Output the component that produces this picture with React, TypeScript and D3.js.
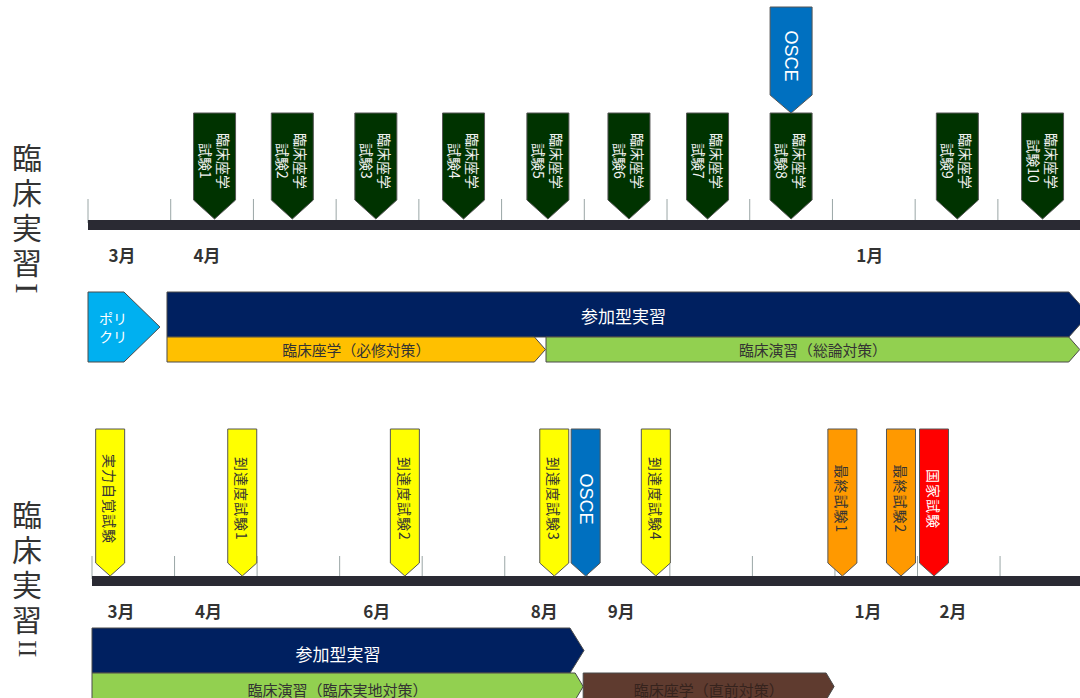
import React from "react";
import * as d3 from "d3";

// ---- data (positions in months from the start of March) ----
const monthTicks = [0, 1, 2, 3, 4, 5, 6, 7, 8, 9, 10, 11, 12];

const topMonthLabels = ["3月", "4月", "1月"];
const topMonthPos = [0.41, 1.44, 9.45];

const topExamLine1 = "臨床座学";
const topExamLabels = ["試験1", "試験2", "試験3", "試験4", "試験5", "試験6", "試験7", "試験8", "試験9", "試験10"];
const topExamPos = [1.53, 2.47, 3.48, 4.54, 5.56, 6.54, 7.49, 8.5, 10.51, 11.54];
const topOsceLabels = ["OSCE"];
const topOscePos = [8.5];

const bottomMonthLabels = ["3月", "4月", "6月", "8月", "9月", "1月", "2月"];
const bottomMonthPos = [0.35, 1.41, 3.45, 5.48, 6.41, 9.4, 10.43];

const bottomExamLabels = ["実力自覚試験", "到達度試験1", "到達度試験2", "到達度試験3", "OSCE", "到達度試験4", "最終試験1", "最終試験2", "国家試験"];
const bottomExamPos = [0.22, 1.82, 3.79, 5.6, 5.98, 6.83, 9.09, 9.8, 10.2];
const bottomExamKind = ["reach", "reach", "reach", "reach", "osce", "reach", "final", "final", "national"];

const topBandLabels = ["ポリ\nクリ", "参加型実習", "臨床座学（必修対策）", "臨床演習（総論対策）"];
const topBandStart = [0, 0.955, 0.955, 5.537];
const topBandEnd = [0.87, 12.1, 5.53, 11.99];
const topBandKind = ["poly", "navy", "gold", "green"];

const bottomBandLabels = ["参加型実習", "臨床演習（臨床実地対策）", "臨床座学（直前対策）"];
const bottomBandStart = [0, 0, 5.95];
const bottomBandEnd = [5.96, 5.95, 8.99];
const bottomBandKind = ["navy", "green", "brown"];

const sectionTitles = ["臨床実習", "臨床実習"];
const sectionNumerals = ["I", "II"];

// ---- styles ----
const JP = "'Noto Sans CJK JP', 'Noto Sans', sans-serif";
const LAT = "'Liberation Sans', Arial, sans-serif";
const SERIF = "'Liberation Serif', 'DejaVu Serif', serif";
const kindFill: Record<string, string> = {
  exam: "#003300",
  osce: "#0070C0",
  reach: "#FFFF00",
  final: "#FF9900",
  national: "#FF0000",
  poly: "#00B0F0",
  navy: "#002060",
  gold: "#FFC000",
  green: "#92D050",
  brown: "#5F3B2F",
};
const kindText: Record<string, string> = {
  exam: "#f2f2f2",
  osce: "#ffffff",
  reach: "#333333",
  final: "#333333",
  national: "#ffffff",
  poly: "#ffffff",
  navy: "#ffffff",
  gold: "#333333",
  green: "#333333",
  brown: "#36231d",
};

const xTop = d3.scaleLinear().domain([0, 12]).range([88, 1080.6]);
const xBot = d3.scaleLinear().domain([0, 12]).range([92, 1082.6]);

function markerPath(cx: number, hw: number, top: number, shoulder: number, tip: number) {
  const p = d3.path();
  p.moveTo(cx - hw, top);
  p.lineTo(cx + hw, top);
  p.lineTo(cx + hw, shoulder);
  p.lineTo(cx, tip);
  p.lineTo(cx - hw, shoulder);
  p.closePath();
  return p.toString();
}

function arrowPath(x0: number, x1: number, y0: number, y1: number, depth: number) {
  const p = d3.path();
  p.moveTo(x0, y0);
  p.lineTo(x1 - depth, y0);
  p.lineTo(x1, (y0 + y1) / 2);
  p.lineTo(x1 - depth, y1);
  p.lineTo(x0, y1);
  p.closePath();
  return p.toString();
}

function Timeline({ x, y, tickTop }: { x: d3.ScaleLinear<number, number>; y: number; tickTop: number }) {
  return (
    <g>
      {monthTicks.map((m) => (
        <line key={m} x1={x(m)} x2={x(m)} y1={tickTop} y2={y + 3} stroke="#9aa6a6" strokeWidth={1} />
      ))}
      <rect x={x(0)} y={y} width={1080 - x(0) + 10} height={10} fill="#2a2a33" />
    </g>
  );
}

function SectionTitle({ title, numeral, top, numSize }: { title: string; numeral: string; top: number; numSize: number }) {
  return (
    <text
      x={27}
      y={top}
      fill="#333"
      fontFamily={JP}
      fontSize={30}
      letterSpacing={5}
      style={{ writingMode: "vertical-rl", textOrientation: "mixed" } as React.CSSProperties}
    >
      {title}
      <tspan fontFamily={SERIF} fontSize={numSize} letterSpacing={0}>{numeral}</tspan>
    </text>
  );
}

export default function App() {
  return (
    <svg
      width={1080}
      height={698}
      viewBox="0 0 1080 698"
      style={{ position: "absolute", left: 0, top: 0, background: "#fff" }}
    >
      <rect width={1080} height={698} fill="#fff" />

      {/* section titles */}
      <SectionTitle title={sectionTitles[0]} numeral={sectionNumerals[0]} top={143} numSize={32} />
      <SectionTitle title={sectionTitles[1]} numeral={sectionNumerals[1]} top={500} numSize={26} />

      {/* ===== top timeline ===== */}
      <Timeline x={xTop} y={220} tickTop={199} />

      {topExamPos.map((m, i) => {
        const cx = xTop(m);
        return (
          <g key={"te" + i}>
            <path d={markerPath(cx, 21, 113, 200, 219)} fill={kindFill.exam} stroke="#555" strokeWidth={1} />
            <text
              transform={`translate(${cx},${161}) rotate(90)`}
              fontFamily={JP}
              fontSize={14}
              fill={kindText.exam}
              textAnchor="middle"
            >
              <tspan x={0} y={-9} dominantBaseline="central">{topExamLine1}</tspan>
              <tspan x={0} y={9} dominantBaseline="central">{topExamLabels[i]}</tspan>
            </text>
          </g>
        );
      })}

      {topOscePos.map((m, i) => {
        const cx = xTop(m);
        return (
          <g key={"to" + i}>
            <path d={markerPath(cx, 21, 7, 95, 113)} fill={kindFill.osce} stroke="#555" strokeWidth={1} />
            <text
              transform={`translate(${cx},${56}) rotate(90)`}
              fontFamily={LAT}
              fontSize={18}
              fill="#fff"
              textAnchor="middle"
              dominantBaseline="central"
            >
              {topOsceLabels[i]}
            </text>
          </g>
        );
      })}

      {topMonthLabels.map((t, i) => (
        <text
          key={"tm" + i}
          x={xTop(topMonthPos[i])}
          y={254}
          fontFamily={JP}
          fontWeight="bold"
          fontSize={17}
          fill="#333"
          textAnchor="middle"
          dominantBaseline="central"
        >
          {t}
        </text>
      ))}

      {/* top bands */}
      {topBandKind.map((k, i) => {
        const x0 = xTop(topBandStart[i]);
        const x1 = xTop(topBandEnd[i]);
        let y0 = 292, y1 = 337, depth = 20;
        if (k === "poly") { y0 = 292; y1 = 362; depth = 36; }
        if (k === "gold" || k === "green") { y0 = 337; y1 = 362; depth = 11; }
        const lines = topBandLabels[i].split("\n");
        const cx = k === "poly" ? x0 + 25 : (x0 + Math.min(x1, 1080)) / 2;
        const cy = k === "navy" ? 315 : (y0 + y1) / 2;
        return (
          <g key={"tb" + i}>
            <path d={arrowPath(x0, x1, y0, y1, depth)} fill={kindFill[k]} stroke="#4a4a4a" strokeWidth={1} />
            {lines.map((ln, j) => (
              <text
                key={j}
                x={cx}
                y={cy + (j - (lines.length - 1) / 2) * 18}
                fontFamily={JP}
                fontSize={k === "navy" ? 17 : k === "poly" ? 14 : 14.8}
                fill={kindText[k]}
                textAnchor="middle"
                dominantBaseline="central"
              >
                {ln}
              </text>
            ))}
          </g>
        );
      })}

      {/* ===== bottom timeline ===== */}
      <Timeline x={xBot} y={576} tickTop={556} />

      {bottomExamPos.map((m, i) => {
        const cx = xBot(m);
        const k = bottomExamKind[i];
        const isOsce = k === "osce";
        return (
          <g key={"be" + i}>
            <path d={markerPath(cx, 14.5, 429, 563, 576)} fill={kindFill[k]} stroke="#555" strokeWidth={1} />
            <text
              transform={`translate(${cx},${499}) rotate(90)`}
              fontFamily={isOsce ? LAT : JP}
              fontSize={isOsce ? 18 : 14}
              letterSpacing={isOsce ? 0 : 1}
              fill={kindText[k]}
              textAnchor="middle"
              dominantBaseline="central"
            >
              {bottomExamLabels[i]}
            </text>
          </g>
        );
      })}

      {bottomMonthLabels.map((t, i) => (
        <text
          key={"bm" + i}
          x={xBot(bottomMonthPos[i])}
          y={610}
          fontFamily={JP}
          fontWeight="bold"
          fontSize={17}
          fill="#333"
          textAnchor="middle"
          dominantBaseline="central"
        >
          {t}
        </text>
      ))}

      {bottomBandKind.map((k, i) => {
        const x0 = xBot(bottomBandStart[i]);
        const x1 = xBot(bottomBandEnd[i]);
        let y0 = 628, y1 = 673, depth = 14;
        if (k !== "navy") { y0 = 673; y1 = 700; depth = 8; }
        const cx = (x0 + x1) / 2;
        const cy = k === "navy" ? 653 : 689;
        return (
          <g key={"bb" + i}>
            <path d={arrowPath(x0, x1, y0, y1, depth)} fill={kindFill[k]} stroke="#4a4a4a" strokeWidth={1} />
            <text
              x={cx}
              y={cy}
              fontFamily={JP}
              fontSize={k === "navy" ? 17 : 15}
              fill={kindText[k]}
              textAnchor="middle"
              dominantBaseline="central"
            >
              {bottomBandLabels[i]}
            </text>
          </g>
        );
      })}
    </svg>
  );
}
